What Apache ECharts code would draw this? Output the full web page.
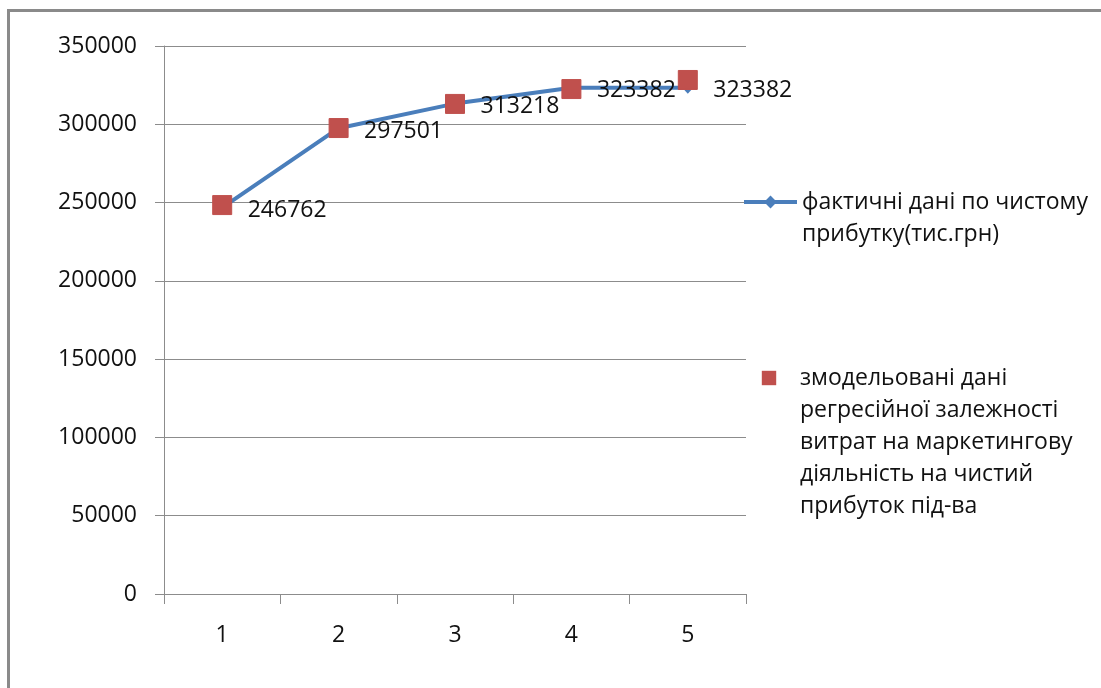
<!DOCTYPE html>
<html>
<head>
<meta charset="utf-8">
<script src="https://cdn.jsdelivr.net/npm/echarts@6/dist/echarts.min.js"></script>
<style>
html,body{margin:0;padding:0;background:#fff;}
#chart{width:1101px;height:688px;}
</style>
</head>
<body>
<div id="chart"></div>
<script>
const categories = ['1', '2', '3', '4', '5'];
const actualValues = [246762, 297501, 313218, 323382, 323382];
const modelValues = [248400, 297600, 313000, 322500, 328300];
const yTicks = [0, 50000, 100000, 150000, 200000, 250000, 300000, 350000];
const actualName = 'фактичні дані по чистому прибутку(тис.грн)';
const modelName = 'змодельовані дані регресійної залежності витрат на маркетингову діяльність на чистий прибуток під-ва';
const actualLines = ['фактичні дані по чистому', 'прибутку(тис.грн)'];
const modelLines = ['змодельовані дані', 'регресійної залежності', 'витрат на маркетингову', 'діяльність на чистий', 'прибуток під-ва'];

// put the first text line level with the legend icon
function firstLineOnIcon(lines) {
  const pad = [];
  for (let i = 1; i < lines.length; i++) pad.push(' ');
  return pad.concat(lines).join('\n');
}
const legendText = {};
legendText[actualName] = firstLineOnIcon(actualLines);
legendText[modelName] = firstLineOnIcon(modelLines);

const FONT = '"Open Sans", sans-serif';
const FS = 23;
const LH = 32;
const chart = echarts.init(document.getElementById('chart'), null, {renderer: 'canvas'});
chart.setOption({
  animation: false,
  backgroundColor: '#fff',
  textStyle: {fontFamily: FONT},
  grid: {left: 164, right: 355, top: 46, bottom: 94, containLabel: false},
  graphic: [{
    type: 'polyline',
    shape: {points: [[8.5, 688], [8.5, 10.5], [1101, 10.5]]},
    style: {stroke: '#8a8a8a', lineWidth: 3, fill: null},
    silent: true
  }],
  legend: [{
    data: [actualName],
    orient: 'vertical',
    left: 742,
    top: 202 - 1.5 * LH,
    padding: 0,
    itemWidth: 53,
    itemHeight: 16,
    lineStyle: {width: 4},
    formatter: n => legendText[n],
    textStyle: {fontFamily: FONT, fontSize: FS, color: '#111', lineHeight: LH}
  }, {
    data: [modelName],
    orient: 'vertical',
    left: 760,
    top: 378 - 4.5 * LH,
    padding: 0,
    itemWidth: 18,
    itemHeight: 18,
    formatter: n => legendText[n],
    textStyle: {fontFamily: FONT, fontSize: FS, color: '#111', lineHeight: LH, padding: [0, 0, 0, 17]}
  }],
  xAxis: {
    type: 'category',
    data: categories,
    boundaryGap: true,
    axisLine: {lineStyle: {color: '#8c8c8c', width: 1}},
    axisTick: {show: true, length: 10, lineStyle: {color: '#8c8c8c'}},
    axisLabel: {margin: 30, fontSize: FS, color: '#111', fontFamily: FONT},
    splitLine: {show: false}
  },
  yAxis: {
    type: 'value',
    min: 0,
    max: 350000,
    interval: 50000,
    axisLine: {show: true, lineStyle: {color: '#8c8c8c', width: 1}},
    axisTick: {show: true, length: 9, lineStyle: {color: '#8c8c8c'}},
    axisLabel: {margin: 27, fontSize: FS, color: '#111', fontFamily: FONT,
      formatter: v => yTicks.indexOf(v) >= 0 ? String(v) : ''},
    splitLine: {show: true, lineStyle: {color: '#8c8c8c', width: 1}}
  },
  series: [{
    name: actualName,
    type: 'line',
    data: actualValues,
    symbol: 'diamond',
    symbolSize: [11, 12],
    lineStyle: {color: '#4a7ebb', width: 4},
    itemStyle: {color: '#4a7ebb'},
    label: {
      show: true,
      position: 'right',
      distance: 20,
      offset: [0, 3],
      fontSize: FS,
      color: '#111',
      fontFamily: FONT
    },
    z: 2
  }, {
    name: modelName,
    type: 'line',
    data: modelValues,
    symbol: 'rect',
    symbolSize: 19,
    showAllSymbol: true,
    lineStyle: {width: 0, opacity: 0},
    itemStyle: {color: '#c0504d', borderColor: '#c0504d'},
    z: 3
  }]
});
</script>
</body>
</html>
